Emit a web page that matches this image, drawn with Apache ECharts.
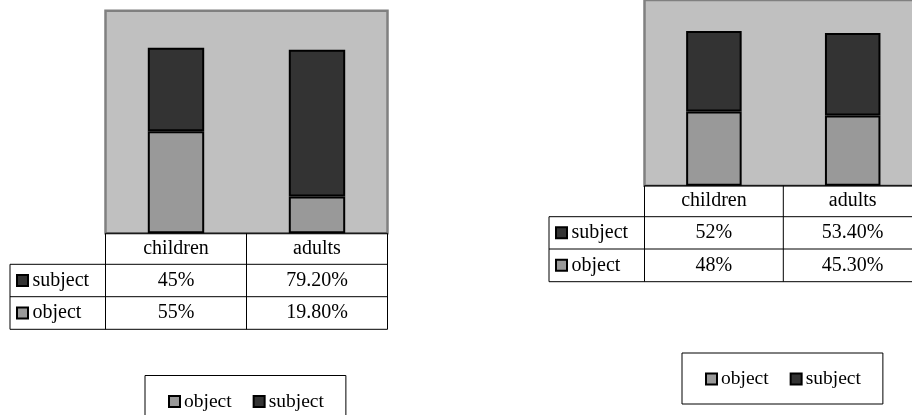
<!DOCTYPE html>
<html><head><meta charset="utf-8">
<script src="https://cdn.jsdelivr.net/npm/echarts@6/dist/echarts.min.js"></script>
<style>html,body{margin:0;padding:0;background:#fff;overflow:hidden;width:912px;height:415px}#c{width:940px;height:415px}</style>
</head><body><div id="c"></div>
<script>
// ---- data ----
const categories = ['children', 'adults'];
const seriesNames = ['object', 'subject'];
const leftObject = [55, 19.8];
const leftSubject = [45, 79.2];
const rightObject = [48, 45.3];
const rightSubject = [52, 53.4];

// ---- styles / layout ----
const FONT = '"Liberation Serif", "DejaVu Serif", serif';
const COLORS = { object: '#999999', subject: '#333333' };
const panels = [
  { grid: { left: 105.5, top: 10.7, width: 282, height: 222.6 }, tableLeft: 10,
    rows: [233.3, 264.3, 296.7, 329.3], legend: { left: 145, top: 375.5 },
    values: { object: leftObject, subject: leftSubject } },
  { grid: { left: 644.5, top: 0, width: 277.6, height: 185.7 }, tableLeft: 549,
    rows: [185.7, 216.7, 249, 281.7], legend: { left: 682, top: 353 },
    values: { object: rightObject, subject: rightSubject } }
];

function fmt(v) { return Number.isInteger(v) ? v + '%' : v.toFixed(2) + '%'; }

const chart = echarts.init(document.getElementById('c'), null, { renderer: 'canvas' });

const option = {
  animation: false,
  backgroundColor: '#ffffff',
  grid: panels.map(p => Object.assign({ show: true, backgroundColor: '#c0c0c0', borderColor: '#808080', borderWidth: 2.5 }, p.grid)),
  xAxis: panels.map((p, i) => ({ type: 'category', gridIndex: i, data: categories, show: false })),
  yAxis: panels.map((p, i) => ({ type: 'value', gridIndex: i, min: 0, max: 120, show: false })),
  legend: panels.map(p => ({
    data: seriesNames, left: p.legend.left, top: p.legend.top, orient: 'horizontal',
    icon: 'rect', itemWidth: 11, itemHeight: 11, itemGap: 21,
    padding: [16, 22, 15, 23], borderColor: '#000', borderWidth: 1, backgroundColor: '#fff',
    textStyle: { fontFamily: FONT, fontSize: 19.5, color: '#000', padding: [0, 0, 0, -1] },
    selectedMode: false
  })),
  series: []
};
panels.forEach((p, i) => {
  seriesNames.forEach(name => {
    option.series.push({
      name: name, type: 'bar', stack: 'p' + i, xAxisIndex: i, yAxisIndex: i,
      data: p.values[name], barWidth: '40%',
      itemStyle: { color: COLORS[name], borderColor: '#000', borderWidth: 2 }
    });
  });
});
chart.setOption(option);

// ---- data tables under each plot ----
const graphics = [];
function line(x1, y1, x2, y2) {
  graphics.push({ type: 'line', silent: true, z: 10, shape: { x1, y1, x2, y2 }, style: { stroke: '#000', lineWidth: 1 } });
}
function text(x, y, t, align) {
  graphics.push({ type: 'text', silent: true, z: 10, x: x, y: y,
    style: { text: t, fontFamily: FONT, fontSize: 20, fill: '#000', align: align || 'center', verticalAlign: 'middle' } });
}
panels.forEach((p, i) => {
  const centers = categories.map((c, k) => chart.convertToPixel({ xAxisIndex: i }, k));
  const band = centers[1] - centers[0];
  const edges = [centers[0] - band / 2, centers[0] + band / 2, centers[1] + band / 2];
  const r = p.rows;
  line(edges[0], r[0], edges[2], r[0]);
  for (let k = 1; k < 4; k++) line(p.tableLeft, r[k], edges[2], r[k]);
  edges.forEach(x => line(x, r[0], x, r[3]));
  line(p.tableLeft, r[1], p.tableLeft, r[3]);
  const mid = k => (r[k] + r[k + 1]) / 2;
  categories.forEach((c, k) => text(centers[k], mid(0), c));
  ['subject', 'object'].forEach((name, j) => {
    const y = mid(j + 1);
    graphics.push({ type: 'rect', silent: true, z: 10,
      shape: { x: p.tableLeft + 7, y: y - 5.5, width: 11, height: 11 },
      style: { fill: COLORS[name], stroke: '#000', lineWidth: 2 } });
    text(p.tableLeft + 22.5, y, name, 'left');
    p.values[name].forEach((v, k) => text(centers[k], y, fmt(v)));
  });
});
chart.setOption({ graphic: graphics });
</script></body></html>
